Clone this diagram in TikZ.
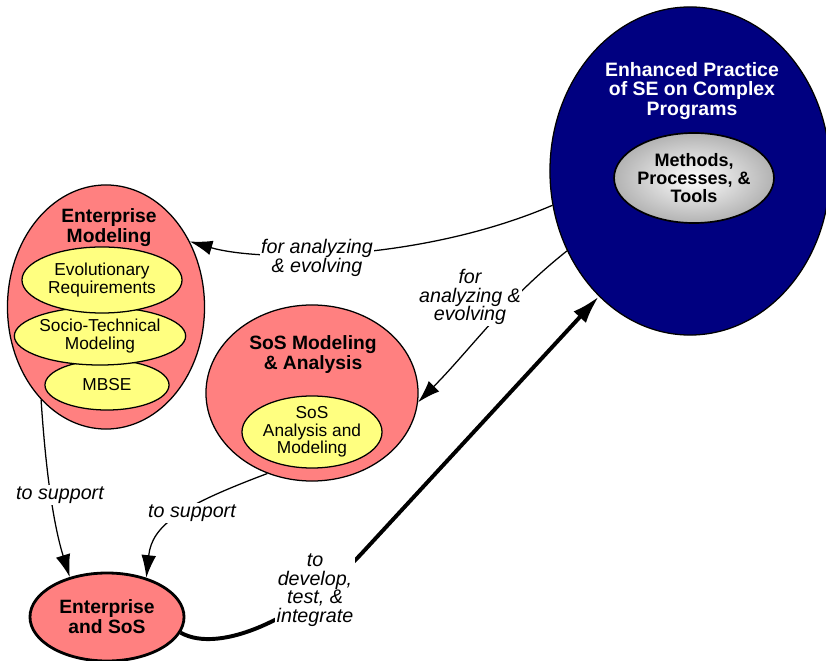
\documentclass[tikz,border=0pt]{standalone}
\usepackage{fontspec}
\setmainfont{Liberation Sans}
\usetikzlibrary{shapes.geometric,arrows.meta,positioning}

\definecolor{pinkfill}{RGB}{255,128,128}
\definecolor{yellowfill}{RGB}{255,255,128}
\definecolor{navyfill}{RGB}{0,0,128}

\begin{document}
\begin{tikzpicture}[
    x=0.025cm, y=-0.025cm,
    blob/.style={ellipse, draw, line width=0.9pt, fill=pinkfill, inner sep=0pt},
    inner/.style={ellipse, draw, line width=0.9pt, fill=yellowfill, inner sep=0pt, align=center, font=\fontsize{12.3}{12.3}\selectfont},
    title/.style={align=center, font=\bfseries\fontsize{13.7}{14.2}\selectfont},
    lbl/.style={align=center, fill=white, inner sep=1pt, font=\itshape\fontsize{14}{13.2}\selectfont},
    arrow/.style={-{Latex[length=16pt,width=10.5pt]}, line width=0.9pt},
    bigarrow/.style={-{Latex[length=20pt,width=12pt]}, line width=2.8pt}
]
\useasboundingbox (0,0) rectangle (826,661);

% practice
\node[ellipse, draw, line width=0.9pt, fill=navyfill, inner sep=0pt, minimum width=7cm, minimum height=8.2cm] (esp) at (690,171) {};
\node[title, text=white, font=\bfseries\fontsize{13.8}{13.6}\selectfont] (esptitle) at (692,91) {Enhanced Practice\\of SE on Complex\\Programs};
\node[ellipse, draw, line width=1.2pt, inner sep=0pt, shading=radial, inner color=white, outer color=black!30,
      minimum width=3.75cm, minimum height=2.25cm, align=center, font=\bfseries\fontsize{12.8}{12.8}\selectfont] (mpt) at (694,178) {Methods,\\Processes, \&\\Tools};

% enterprise modeling
\node[blob, minimum width=4.925cm, minimum height=6.1cm] (em) at (106,307) {};
\node[title] (emtitle) at (109,228) {Enterprise\\Modeling};
\node[inner, minimum width=3.1cm, minimum height=1.25cm] (mbse) at (107,385) {MBSE};
\node[inner, minimum width=4.15cm, minimum height=1.45cm] (socio) at (100,336) {Socio-Technical\\Modeling};
\node[inner, minimum width=4cm, minimum height=1.65cm] (evo) at (102,280) {Evolutionary\\Requirements};

% sos modeling
\node[blob, minimum width=5.3cm, minimum height=4.4cm] (sos) at (312,393) {};
\node[title] (sostitle) at (313,355) {SoS Modeling\\\& Analysis};
\node[inner, minimum width=3.5cm, minimum height=1.8cm] (sosam) at (312,432) {SoS\\Analysis and\\Modeling};

% enterprise and sos
\node[blob, line width=2pt, minimum width=3.85cm, minimum height=2.2cm, align=center,
      font=\bfseries\fontsize{13.7}{14.2}\selectfont] (ent) at (107,617) {Enterprise\\and SoS};

% connectors
\draw[arrow] (esp.194) .. controls (420,262) and (260,262) .. (em.38);
\draw[arrow] (esp.213) .. controls (505,300) and (470,350) .. (sos.-5);
\draw[arrow] (em.235) .. controls (45,460) and (52,520) .. (ent.133);
\draw[arrow] (sos.241) .. controls (181,506) and (152,525) .. (ent.45);
\draw[bigarrow] (ent.-12) .. controls (220,655) and (303,617) .. (363,552) -- (esp.234);

% labels
\node[lbl] (l1) at (317,258) {for analyzing\\\& evolving};
\node[lbl] (l2) at (470,297) {for\\analyzing \&\\evolving};
\node[lbl] (l3) at (60,495) {to support};
\node[lbl] (l4) at (192,513) {to support};
\node[lbl] (l5) at (315,590) {to\\develop,\\test, \&\\integrate};

\end{tikzpicture}
\end{document}
